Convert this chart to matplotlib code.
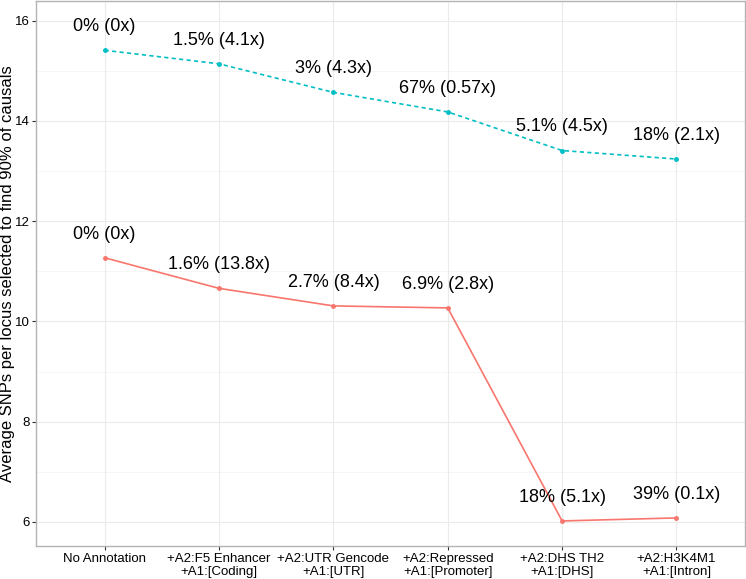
import matplotlib
matplotlib.use('Agg')
import matplotlib.pyplot as plt
import numpy as np

plt.rcParams['font.family'] = ['Liberation Sans', 'DejaVu Sans']

categories = ['No Annotation', '+A2:F5 Enhancer\n+A1:[Coding]', '+A2:UTR Gencode\n+A1:[UTR]',
              '+A2:Repressed\n+A1:[Promoter]', '+A2:DHS TH2\n+A1:[DHS]', '+A2:H3K4M1\n+A1:[Intron]']

teal_vals = [15.41, 15.14, 14.57, 14.18, 13.41, 13.24]
teal_labels = ['0% (0x)', '1.5% (4.1x)', '3% (4.3x)', '67% (0.57x)', '5.1% (4.5x)', '18% (2.1x)']

red_vals = [11.27, 10.66, 10.31, 10.27, 6.02, 6.08]
red_labels = ['0% (0x)', '1.6% (13.8x)', '2.7% (8.4x)', '6.9% (2.8x)', '18% (5.1x)', '39% (0.1x)']

fig = plt.figure(figsize=(7.46, 5.79), dpi=100)
ax = fig.add_axes([0.0483, 0.057, 0.9505, 0.941])

x = np.arange(1, len(categories) + 1)

# grid like ggplot theme_bw
for v in np.arange(6, 17, 2):
    ax.axhline(v, color='#EBEBEB', lw=0.8, zorder=0)
for v in np.arange(7, 17, 2):
    ax.axhline(v, color='#F5F5F5', lw=0.6, zorder=0)
for v in x:
    ax.axvline(v, color='#EBEBEB', lw=0.8, zorder=0)

ax.plot(x, teal_vals, color='#00BFC4', lw=1.2, linestyle=(0, (2.5, 2)), marker='o', markersize=2.5, zorder=3)
ax.plot(x, red_vals, color='#F8766D', lw=1.2, marker='o', markersize=2.5, zorder=3)

for xi, v, s in zip(x, teal_vals, teal_labels):
    ax.text(xi, v + 0.47, s, ha='center', va='center', fontsize=13, color='black')
for xi, v, s in zip(x, red_vals, red_labels):
    ax.text(xi, v + 0.47, s, ha='center', va='center', fontsize=13, color='black')

ax.set_xlim(0.4, 6.6)
ax.set_ylim(5.52, 16.39)
ax.set_xticks(x)
ax.set_xticklabels(categories, fontsize=9.5, linespacing=1.15)
ax.set_yticks([6, 8, 10, 12, 14, 16])
ax.tick_params(axis='y', labelsize=9.5, length=3, width=0.8, color='#333333', pad=1.5)
ax.tick_params(axis='x', length=3, width=0.8, color='#333333', pad=2)
ax.set_ylabel('Average SNPs per locus selected to find 90% of causals', fontsize=12, labelpad=0)
ax.yaxis.set_label_coords(-0.029, 0.5)

for sp in ax.spines.values():
    sp.set_color('#B3B3B3')
    sp.set_linewidth(1.0)

fig.savefig('out.png', dpi=100)
